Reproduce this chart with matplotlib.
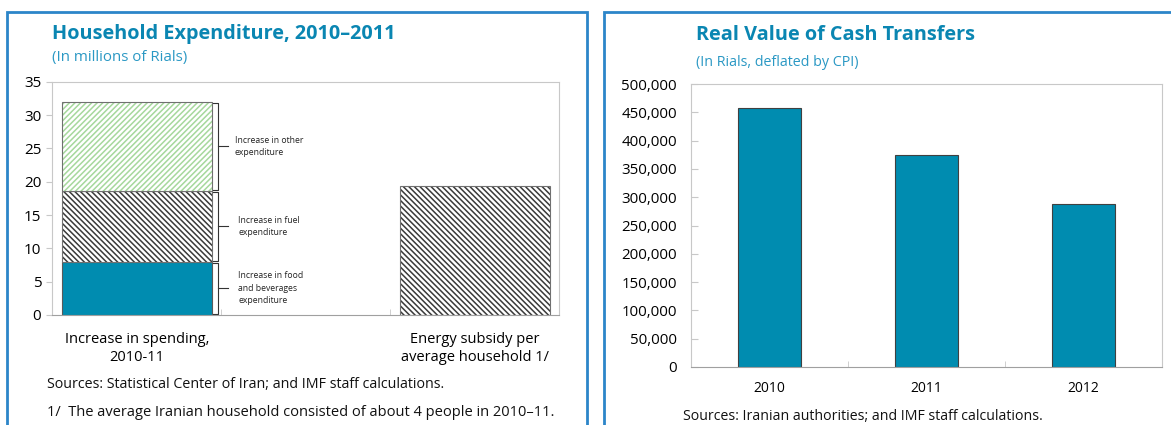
import numpy as np
import matplotlib.pyplot as plt
from matplotlib.patches import Rectangle
from matplotlib.ticker import FuncFormatter

plt.rcParams['font.family'] = ['Open Sans', 'DejaVu Sans']
plt.rcParams['hatch.linewidth'] = 1.1

# left chart data (millions of rials)
spend_parts = ['Increase in food\nand beverages\nexpenditure',
               'Increase in fuel\nexpenditure',
               'Increase in other\nexpenditure']
spend_values = [8.0, 10.6, 13.4]
subsidy_value = 19.3
left_cats = ['Increase in spending,\n2010-11', '', 'Energy subsidy per\naverage household 1/']

# right chart data (rials, deflated by CPI)
years = ['2010', '2011', '2012']
transfers = [457000, 374500, 288000]

W, H = 1171, 425
teal = '#008cb0'
title_col = '#0a86b2'
sub_col = '#2a98c4'
frame_col = '#c8c8c8'


def fx(px):
    return px / W


def fy(py):
    return 1 - py / H


fig = plt.figure(figsize=(W / 100, H / 100), dpi=100)

# panel borders
for x0, x1 in [(7, 587), (604, 1180)]:
    fig.patches.append(Rectangle((fx(x0), fy(440)), fx(x1 - x0), (440 - 12) / H,
                                 transform=fig.transFigure, fill=False,
                                 edgecolor='#2c85c9', linewidth=2))

# ---------------- left chart ----------------
ax1 = fig.add_axes([fx(52.3), fy(315), fx(507), 233.3 / H])
x = np.arange(len(left_cats))
bw = 0.885
hatch_cols = [None, '#3a3a3a', '#a6d89c']
dark_hatch = '\\' * 6
bottom = 0
for i, v in enumerate(spend_values):
    if i == 0:
        ax1.bar(x[0], v, bw, bottom=bottom, color=teal, edgecolor='#5a5a5a', linewidth=0.8)
    else:
        h = dark_hatch if i == 1 else '/' * 6
        ax1.bar(x[0], v, bw, bottom=bottom, color='white', edgecolor=hatch_cols[i],
                hatch=h, linewidth=0)
        ax1.bar(x[0], v, bw, bottom=bottom, fill=False, edgecolor='#707070', linewidth=0.8)
    # bracket
    b0, b1 = bottom + 0.15, bottom + v - 0.15
    mid = bottom + v / 2
    ax1.plot([0.45, 0.48, 0.48, 0.45], [b0, b0, b1, b1], color='#333333', lw=0.8,
             clip_on=False)
    ax1.plot([0.48, 0.54], [mid, mid], color='#333333', lw=0.8)
    tx = 0.6 if i < 2 else 0.58
    ax1.text(tx, mid, spend_parts[i], fontsize=6.2, va='center', ha='left',
             color='#222222', linespacing=1.5)
    bottom += v

ax1.bar(x[2], subsidy_value, bw, color='white', edgecolor='#3a3a3a',
        hatch=dark_hatch, linewidth=0)
ax1.bar(x[2], subsidy_value, bw, fill=False, edgecolor='#707070', linewidth=0.8)

ax1.set_xlim(-0.5, 2.5)
ax1.set_ylim(0, 35)
ax1.set_yticks(np.arange(0, 36, 5))
ax1.set_xticks(x)
ax1.set_xticklabels(left_cats, fontsize=10.5, linespacing=1.3)
ax1.set_xticks([0.5, 1.5], minor=True)
ax1.tick_params(axis='x', which='major', length=0, pad=12)
ax1.tick_params(axis='x', which='minor', direction='in', length=4, color=frame_col)
ax1.tick_params(axis='y', direction='out', length=4, color=frame_col, labelsize=11, pad=4)
for s in ['top', 'right', 'left']:
    ax1.spines[s].set_color(frame_col)
ax1.spines['bottom'].set_color('#a0a0a0')

fig.text(fx(52), fy(34), 'Household Expenditure, 2010\u20132011', fontsize=14.3,
         fontweight='bold', color=title_col, va='center')
fig.text(fx(52), fy(58), '(In millions of Rials)', fontsize=10.8, color=sub_col, va='center')
fig.text(fx(47), fy(384), 'Sources: Statistical Center of Iran; and IMF staff calculations.',
         fontsize=10.3, va='center', color='#111111')
fig.text(fx(47), fy(413),
         '1/  The average Iranian household consisted of about 4 people in 2010\u201311.',
         fontsize=10.5, va='center', color='#111111')

# ---------------- right chart ----------------
ax2 = fig.add_axes([fx(691), fy(367), fx(471), 283 / H])
xr = np.arange(len(years))
ax2.bar(xr, transfers, 0.4, color=teal, edgecolor='#404040', linewidth=0.8)
ax2.set_xlim(-0.5, 2.5)
ax2.set_ylim(0, 500000)
ax2.set_yticks(np.arange(0, 500001, 50000))
ax2.yaxis.set_major_formatter(FuncFormatter(lambda v, p: f'{int(v):,}'))
ax2.set_xticks(xr)
ax2.set_xticklabels(years, fontsize=10)
ax2.set_xticks([0.5, 1.5], minor=True)
ax2.tick_params(axis='x', which='major', length=0, pad=10)
ax2.tick_params(axis='x', which='minor', direction='in', length=4, color=frame_col)
ax2.tick_params(axis='y', direction='in', length=5, color=frame_col, labelsize=10.8, pad=10)
for s in ['top', 'right', 'left']:
    ax2.spines[s].set_color(frame_col)
ax2.spines['bottom'].set_color('#a0a0a0')

fig.text(fx(696), fy(35), 'Real Value of Cash Transfers', fontsize=14.3,
         fontweight='bold', color=title_col, va='center')
fig.text(fx(696), fy(62), '(In Rials, deflated by CPI)', fontsize=10.3, color=sub_col, va='center')
fig.text(fx(683), fy(416), 'Sources: Iranian authorities; and IMF staff calculations.',
         fontsize=10.2, va='center', color='#111111')

fig.savefig('out.png', dpi=100)
